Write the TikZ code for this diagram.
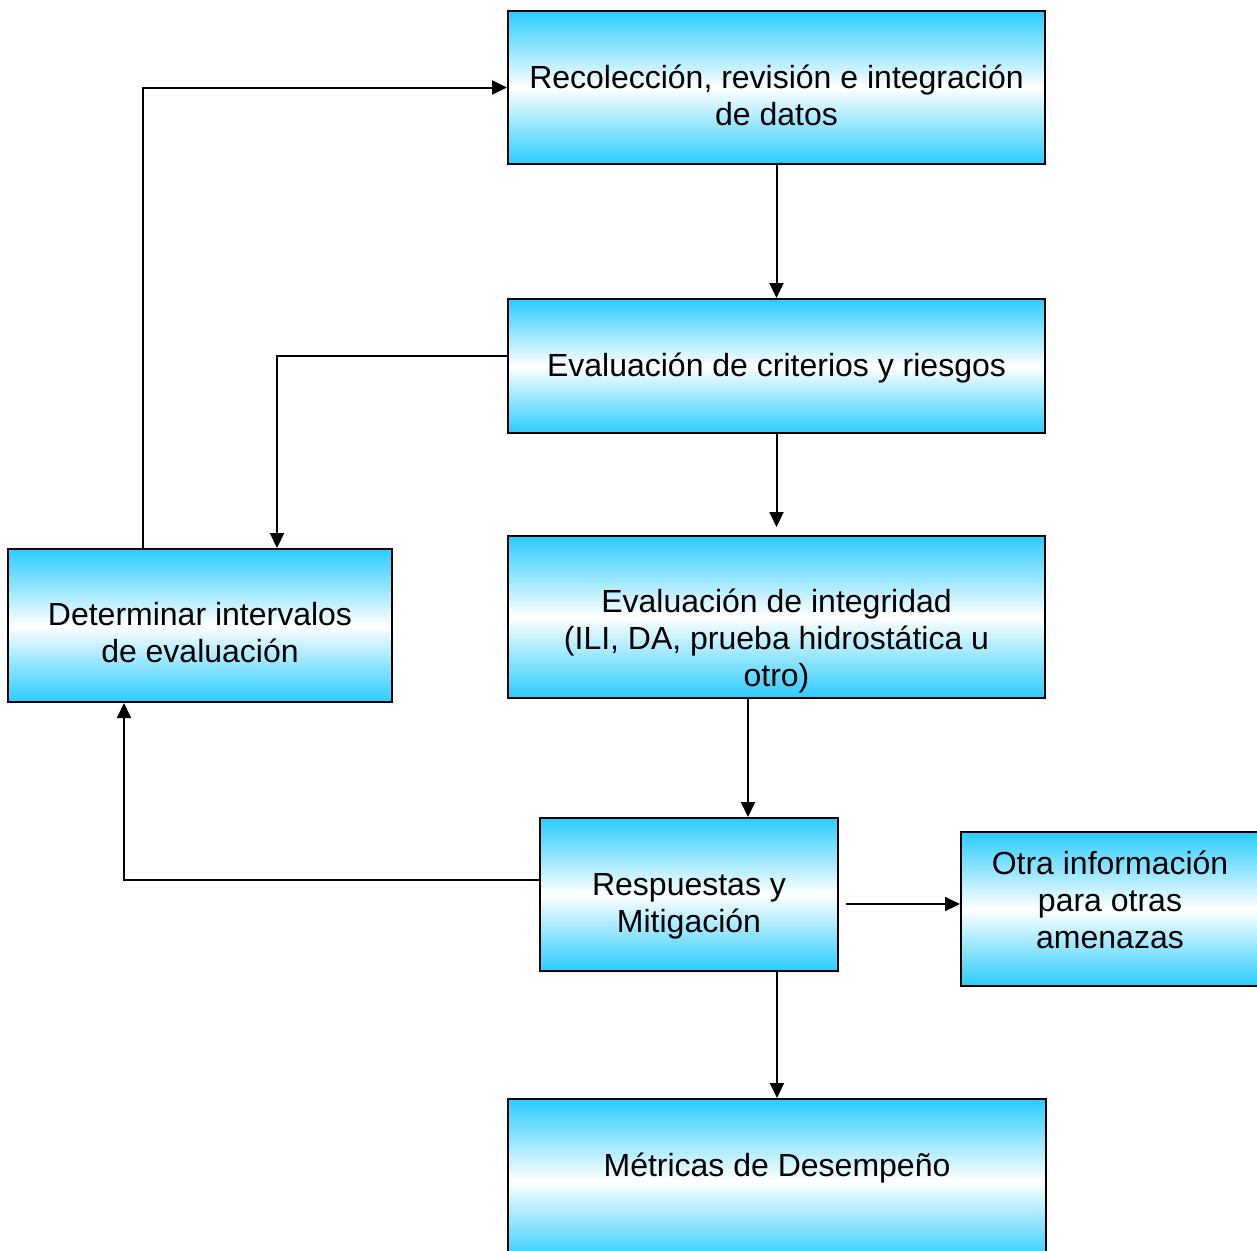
\documentclass[tikz,border=0pt]{standalone}
\usepackage{fontspec}
\setmainfont{Liberation Sans}
\usetikzlibrary{arrows.meta}
\definecolor{boxcyan}{RGB}{41,204,255}
\tikzset{
  box/.style={draw=black, line width=1pt, inner sep=0pt,
    top color=boxcyan, bottom color=boxcyan, middle color=white},
  lbl/.style={align=center, inner sep=0pt,
    font=\fontsize{16pt}{18.5pt}\selectfont},
  arr/.style={line width=1pt, -{Triangle[length=7.5pt,width=7pt]}}
}
\begin{document}
\begin{tikzpicture}[x=0.5pt,y=-0.5pt]
\useasboundingbox (0,0) rectangle (1257,1250);
\clip (0,0) rectangle (1257,1250);

% process boxes
\node[box, minimum width=268.5pt, minimum height=76.5pt,
  label={[lbl,yshift=-4pt]center:Recolección, revisión e integración\\de datos}]
  (b1) at (776.5,87.5) {};
\node[box, minimum width=268.5pt, minimum height=67pt,
  label={[lbl,yshift=-1pt]center:Evaluación de criterios y riesgos}]
  (b2) at (776.5,366) {};
\node[box, minimum width=268.5pt, minimum height=81pt,
  label={[lbl,yshift=-12.25pt]center:Evaluación de integridad\\(ILI, DA, prueba hidrostática u\\otro)}]
  (b3) at (776.5,617) {};
\node[box, minimum width=192pt, minimum height=76.5pt,
  label={[lbl,yshift=-3.75pt]center:Determinar intervalos\\de evaluación}]
  (b4) at (200,625.5) {};
\node[box, minimum width=149pt, minimum height=76.5pt,
  label={[lbl,yshift=-6pt]center:Respuestas y\\Mitigación}]
  (b5) at (689,894.5) {};
\node[box, minimum width=149pt, minimum height=77pt,
  label={[lbl,yshift=4.75pt]center:Otra información\\para otras\\amenazas}]
  (b6) at (1110,909) {};
\node[box, minimum width=269pt, minimum height=81.5pt,
  label={[lbl,yshift=6.25pt]center:Métricas de Desempeño}]
  (b7) at (777,1180.5) {};

% connectors
\draw[arr] (b1.south) -- (b2.north);
\draw[arr, shorten >=4pt] (b2.south) -- (b3.north);
\draw[arr] ([yshift=5pt]b2.west) -| ([xshift=38.5pt]b4.north);
\draw[arr] ([xshift=-28.5pt]b4.north) |- (b1.west);
\draw[arr] ([xshift=-14.25pt]b3.south) -- ([xshift=-14.25pt]b3.south |- b5.north);
\draw[arr] ([yshift=7.25pt]b5.west) -| ([xshift=-38pt]b4.south);
\draw[arr] ([xshift=3.5pt,yshift=-4.75pt]b5.east) -- ([yshift=-4.75pt]b5.east -| b6.west);
\draw[arr] (b5.south -| b7.north) -- (b7.north);
\end{tikzpicture}
\end{document}
